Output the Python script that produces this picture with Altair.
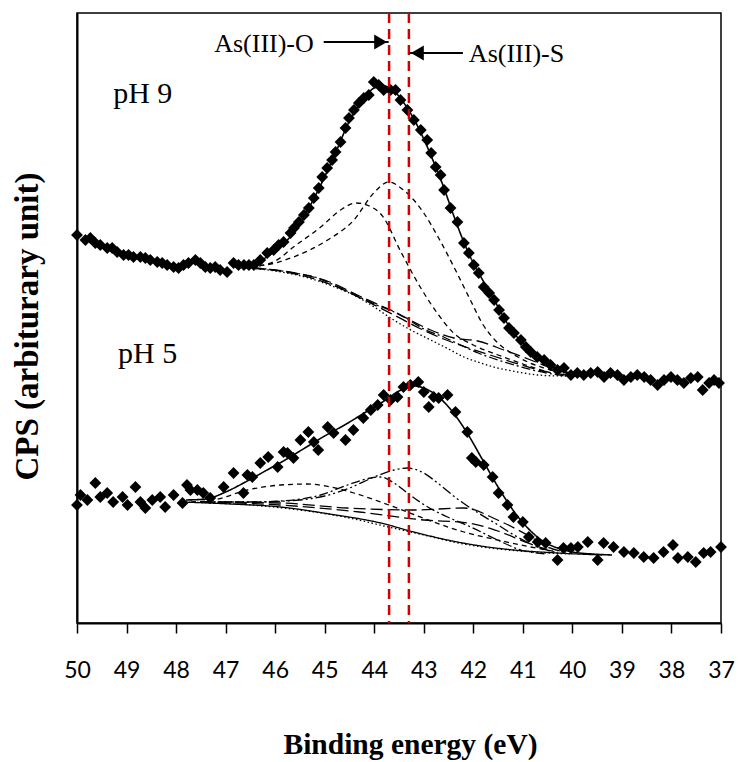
import altair as alt
import pandas as pd

# ---------------- data ----------------
TICKS = [50, 49, 48, 47, 46, 45, 44, 43, 42, 41, 40, 39, 38, 37]

# pH 9 measured points
PH9_EV = [50.0, 49.83, 49.73, 49.63, 49.53, 49.39, 49.29, 49.19, 49.06, 48.96,
          48.86, 48.72, 48.62, 48.52, 48.38, 48.28, 48.18, 48.05, 47.95, 47.85,
          47.75, 47.61, 47.51, 47.41, 47.31, 47.21, 47.11, 46.97, 46.84, 46.74,
          46.63, 46.53, 46.43, 46.30, 46.16, 46.03, 45.93, 45.83, 45.69, 45.62,
          45.52, 45.42, 45.32, 45.22, 45.12, 45.05, 44.95, 44.85, 44.78, 44.68,
          44.58, 44.51, 44.41, 44.31, 44.21, 44.11, 44.01, 43.91, 43.81, 43.67,
          43.57, 43.47, 43.33, 43.20, 43.06, 42.93, 42.85, 42.76, 42.66, 42.59,
          42.46, 42.32, 42.19, 42.09, 41.99, 41.89, 41.79, 41.68, 41.58, 41.48,
          41.38, 41.28, 41.18, 41.04, 40.94, 40.84, 40.71, 40.57, 40.44, 40.30,
          40.17, 40.03, 39.90, 39.77, 39.63, 39.49, 39.36, 39.23, 39.09, 38.96,
          38.82, 38.69, 38.55, 38.42, 38.28, 38.15, 38.01, 37.88, 37.75, 37.61,
          37.47, 37.37, 37.24, 37.14, 37.04]
PH9_I = [388, 383, 385, 380, 378, 375, 375, 371, 368, 368,
         366, 366, 365, 363, 361, 360, 358, 356, 355, 358,
         360, 363, 360, 356, 355, 356, 353, 351, 360, 358,
         358, 358, 358, 363, 370, 373, 378, 381, 390, 395,
         401, 408, 415, 425, 435, 446, 455, 463, 471, 481,
         495, 505, 513, 520, 525, 528, 541, 538, 533, 533,
         533, 523, 513, 503, 493, 483, 470, 456, 448, 433,
         415, 401, 380, 370, 358, 350, 336, 330, 323, 313,
         305, 295, 290, 283, 276, 271, 266, 263, 258, 253,
         255, 248, 250, 248, 250, 251, 246, 250, 248, 243,
         246, 248, 246, 243, 238, 243, 246, 243, 240, 245,
         246, 233, 240, 243, 240]

# pH 9 fitted curves
FIT9_EV = [46.8, 46.4, 46.0, 45.7, 45.4, 45.1, 44.8, 44.5, 44.2, 44.0, 43.8, 43.6, 43.4, 43.2, 43.0,
           42.8, 42.6, 42.4, 42.2, 42.0, 41.8, 41.6, 41.4, 41.2, 41.0, 40.8, 40.6, 40.4, 40.2, 40.0, 39.8]
FIT9_I = [356, 360, 372, 386, 408, 436, 468, 502, 525, 535, 537, 532, 520, 504, 484,
          461, 436, 408, 382, 360, 342, 325, 307, 291, 280, 270, 262, 256, 252, 249, 248]
BG9_EV = [46.8, 46.4, 46.0, 45.6, 45.2, 44.9, 44.6, 44.3, 44.0, 43.6, 43.3, 43.0, 42.6, 42.3, 41.9,
          41.5, 41.1, 40.8, 40.4, 40.0, 39.7]
BG9_I = [356, 355, 353, 350, 346, 340, 333, 326, 319, 311, 303, 294, 286, 279, 270,
         263, 257, 253, 249, 247, 247]
DOT9_EV = [46.8, 46.0, 45.4, 44.8, 44.3, 44.0, 43.67, 43.3, 42.86, 42.5, 42.19, 41.85, 41.51, 41.1,
           40.7, 40.2, 39.8]
DOT9_I = [356, 352, 346, 336, 325, 316, 305, 294, 283, 274, 266, 260, 255, 251, 248, 247, 247]
LD9A_EV = [46.8, 45.6, 44.9, 44.3, 43.9, 43.5, 43.2, 42.86, 42.39, 41.91, 41.38, 40.84, 40.3, 39.9]
LD9A_I = [356, 350, 341, 327, 318, 309, 301, 293, 285, 282, 273, 263, 253, 249]
LD9B_EV = [46.8, 45.5, 44.8, 44.2, 43.6, 43.1, 42.6, 42.1, 41.6, 41.1, 40.6, 40.1]
LD9B_I = [356, 348, 337, 323, 308, 295, 284, 275, 267, 259, 252, 248]
A9_EV = [46.5, 46.0, 45.63, 45.08, 44.68, 44.37, 44.1, 43.85, 43.45, 43.06, 42.7, 42.4, 42.0, 41.5,
         41.0, 40.5]
A9_I = [356, 362, 376, 396, 413, 420, 417, 408, 370, 335, 308, 290, 278, 268, 259, 251]
B9_EV = [46.5, 46.0, 45.63, 44.94, 44.41, 44.01, 43.71, 43.41, 43.0, 42.7, 42.35, 42.05, 41.8, 41.6,
         41.1, 40.57, 40.1]
B9_I = [356, 360, 366, 383, 403, 430, 441, 433, 410, 385, 352, 322, 298, 285, 266, 255, 249]

# pH 5 measured points
PH5_EV = [50.0, 49.93, 49.79, 49.63, 49.53, 49.39, 49.27, 49.08, 48.98, 48.82,
          48.72, 48.62, 48.48, 48.32, 48.22, 48.05, 47.87, 47.78, 47.71, 47.57,
          47.45, 47.31, 47.04, 46.84, 46.64, 46.56, 46.46, 46.30, 46.14, 45.95,
          45.83, 45.75, 45.63, 45.49, 45.33, 45.22, 45.13, 44.94, 44.82, 44.58,
          44.42, 44.22, 44.07, 43.93, 43.81, 43.67, 43.53, 43.41, 43.27, 43.11,
          43.00, 42.90, 42.80, 42.70, 42.52, 42.36, 42.12, 42.03, 41.95, 41.79,
          41.61, 41.49, 41.31, 41.19, 41.00, 40.88, 40.70, 40.54, 40.30, 40.18,
          40.03, 39.89, 39.69, 39.49, 39.37, 39.17, 38.96, 38.76, 38.56, 38.36,
          38.16, 37.97, 37.87, 37.67, 37.51, 37.35, 37.21, 37.00]
PH5_I = [118, 128, 123, 140, 126, 130, 121, 126, 118, 136,
         121, 115, 123, 126, 116, 128, 120, 138, 133, 133,
         130, 125, 136, 150, 130, 148, 146, 160, 166, 156,
         171, 170, 165, 183, 191, 181, 173, 196, 190, 183,
         193, 205, 213, 218, 228, 223, 226, 236, 238, 241,
         231, 216, 226, 225, 228, 211, 191, 165, 161, 158,
         146, 130, 118, 106, 101, 86, 81, 80, 63, 75,
         75, 76, 81, 63, 80, 76, 71, 70, 66, 65,
         71, 78, 65, 66, 61, 70, 71, 76]

# pH 5 fitted curves
FIT5_EV = [47.8, 47.4, 47.0, 46.6, 46.2, 45.8, 45.4, 45.0, 44.6, 44.2, 43.8, 43.5, 43.2, 42.95, 42.7,
           42.4, 42.1, 41.8, 41.5, 41.2, 40.9, 40.6, 40.3, 40.0, 39.6, 39.2]
FIT5_I = [123, 124, 131, 141, 152, 163, 175, 187, 198, 210, 222, 232, 237, 234, 226,
          210, 188, 162, 136, 113, 95, 82, 75, 71, 69, 68]
BG5_EV = [47.9, 46.9, 45.89, 44.9, 43.87, 43.2, 42.52, 41.85, 41.18, 40.3, 39.4]
BG5_I = [121, 119, 116, 109, 100, 91, 83, 77, 73, 70, 68]
DOT5_EV = [47.9, 46.5, 45.5, 44.5, 43.8, 43.0, 42.3, 41.5, 40.8, 40.0]
DOT5_I = [121, 118, 113, 105, 97, 88, 80, 74, 71, 69]
DS5_EV = [47.7, 47.24, 46.56, 45.89, 45.35, 44.88, 44.41, 43.87, 43.33, 42.8, 42.19, 41.51, 40.84, 40.3]
DS5_I = [121, 123, 133, 138, 139, 136, 130, 121, 111, 101, 91, 83, 76, 71]
DD5A_EV = [47.5, 46.5, 45.89, 45.08, 44.54, 44.07, 43.87, 43.6, 43.33, 42.92, 42.52, 42.05, 41.51,
           41.04, 40.5]
DD5A_I = [121, 121, 122, 128, 138, 145, 146, 140, 130, 116, 106, 96, 83, 73, 69]
DD5B_EV = [47.5, 46.5, 45.5, 45.0, 44.5, 44.0, 43.6, 43.33, 43.0, 42.72, 42.32, 41.9, 41.5, 41.18,
           40.7, 40.3]
DD5B_I = [121, 121, 123, 127, 135, 146, 153, 155, 150, 140, 124, 110, 98, 88, 76, 70]
LD5A_EV = [47.5, 45.89, 44.54, 43.2, 42.19, 41.51, 40.84, 40.5, 40.13]
LD5A_I = [121, 120, 115, 113, 115, 103, 86, 76, 71]
LD5B_EV = [47.5, 45.9, 44.3, 43.0, 42.1, 41.5, 40.9, 40.4]
LD5B_I = [121, 118, 111, 103, 100, 92, 80, 72]

# reference lines, arrows and labels
REF_EV = [43.7, 43.3]
ARROW_R_FROM, ARROW_R_TO, ARROW_R_I = [45.02], [43.71], [581]
ARROW_L_FROM, ARROW_L_TO, ARROW_L_I = [42.21], [43.29], [570]
PH_LABELS, PH_LABEL_EV, PH_LABEL_I = ["pH 9", "pH 5"], [49.27, 49.17], [520, 260]
ASO_LABEL, ASO_EV, ASO_I = ["As(III)-O"], [45.22], [571]
ASS_LABEL, ASS_EV, ASS_I = ["As(III)-S"], [42.09], [561]

# ---------------- encodings ----------------
SERIF = "Liberation Serif"

X = alt.X("eV:Q",
          scale=alt.Scale(domain=[37, 50], reverse=True, nice=False, zero=False),
          axis=alt.Axis(values=TICKS, format="d", tickSize=10, tickWidth=1.5, tickColor="black",
                        domainColor="black", domainWidth=2, labelFont="Lato", labelFontSize=23,
                        labelColor="black", labelPadding=26, labelFlush=False, labelOverlap=False,
                        grid=False, title="Binding energy (eV)", titleFont=SERIF,
                        titleFontSize=29.5, titleFontWeight="bold", titleColor="black",
                        titleX=333, titleY=130, titleBaseline="alphabetic", titleAlign="center"))
Y = alt.Y("I:Q",
          scale=alt.Scale(domain=[0, 610], nice=False, zero=False),
          axis=alt.Axis(labels=False, ticks=False, grid=False, domainColor="black", domainWidth=2,
                        title="CPS (arbiturary unit)", titleFont=SERIF, titleFontSize=33,
                        titleFontWeight="bold", titleColor="black", titleAngle=270,
                        titleX=-40, titleY=313, titleBaseline="alphabetic", titleAlign="center"))


def curve(ev, inten, dash, width=1.3):
    df = pd.DataFrame({"eV": ev, "I": inten, "k": list(range(len(ev)))})
    return alt.Chart(df).mark_line(color="black", strokeDash=dash, strokeWidth=width,
                                   interpolate="monotone").encode(x=X, y=Y, order=alt.Order("k:Q"))


SOLID = [1, 0]
DASH = [5, 4]
DASHDOT = [9, 3, 2, 3]
DASHDOTDOT = [10, 3, 2, 3, 2, 3]
LONGDASH = [12, 5]
DOT = [1.5, 2.5]

lines = [
    curve(BG9_EV, BG9_I, DASHDOT),
    curve(DOT9_EV, DOT9_I, DOT),
    curve(LD9A_EV, LD9A_I, LONGDASH),
    curve(LD9B_EV, LD9B_I, LONGDASH),
    curve(A9_EV, A9_I, DASH),
    curve(B9_EV, B9_I, DASH),
    curve(FIT9_EV, FIT9_I, SOLID, 1.6),
    curve(BG5_EV, BG5_I, SOLID, 1.3),
    curve(DOT5_EV, DOT5_I, DOT),
    curve(DS5_EV, DS5_I, DASH),
    curve(DD5A_EV, DD5A_I, DASHDOT),
    curve(DD5B_EV, DD5B_I, DASHDOTDOT),
    curve(LD5A_EV, LD5A_I, LONGDASH),
    curve(LD5B_EV, LD5B_I, LONGDASH),
    curve(FIT5_EV, FIT5_I, SOLID, 1.6),
]


def points(ev, inten):
    df = pd.DataFrame({"eV": ev, "I": inten})
    return alt.Chart(df).mark_point(shape="diamond", filled=True, size=140, color="black",
                                    opacity=1).encode(x=X, y=Y)


pts9 = points(PH9_EV, PH9_I)
pts5 = points(PH5_EV, PH5_I)

ref = alt.Chart(pd.DataFrame({"eV": REF_EV})).mark_rule(
    color="#D00000", strokeDash=[10, 6], strokeWidth=2.5).encode(x=X)


def arrow(frm, to, yv, shape, xoff):
    df = pd.DataFrame({"eV": frm, "eV2": to, "I": yv})
    shaft = alt.Chart(df).mark_rule(color="black", strokeWidth=2).encode(
        x=X, x2=alt.X2("eV2:Q"), y=Y)
    hdf = pd.DataFrame({"eV": to, "I": yv})
    head = alt.Chart(hdf).mark_point(shape=shape, filled=True, size=220, color="black",
                                     opacity=1, xOffset=xoff).encode(x=X, y=Y)
    return shaft, head


shaft_r, head_r = arrow(ARROW_R_FROM, ARROW_R_TO, ARROW_R_I, "triangle-right", -8)
shaft_l, head_l = arrow(ARROW_L_FROM, ARROW_L_TO, ARROW_L_I, "triangle-left", 8)


def label(texts, ev, yv, align, size):
    df = pd.DataFrame({"eV": ev, "I": yv, "t": texts})
    return alt.Chart(df).mark_text(align=align, baseline="alphabetic", font=SERIF, fontSize=size,
                                   color="black").encode(x=X, y=Y, text="t:N")


t_ph = label(PH_LABELS, PH_LABEL_EV, PH_LABEL_I, "left", 30)
t_o = label(ASO_LABEL, ASO_EV, ASO_I, "right", 26)
t_s = label(ASS_LABEL, ASS_EV, ASS_I, "left", 26)

chart = alt.layer(
    *lines, pts9, pts5, ref, shaft_r, head_r, shaft_l, head_l, t_ph, t_o, t_s
).properties(
    width=644, height=610,
    padding={"left": 77, "top": 13, "right": 18, "bottom": 139},
    autosize=alt.AutoSizeParams(type="none"),
    background="white",
).configure_view(stroke="black", strokeWidth=1.5)

chart.save("out.html", embed_options={"renderer": "svg", "actions": False})
